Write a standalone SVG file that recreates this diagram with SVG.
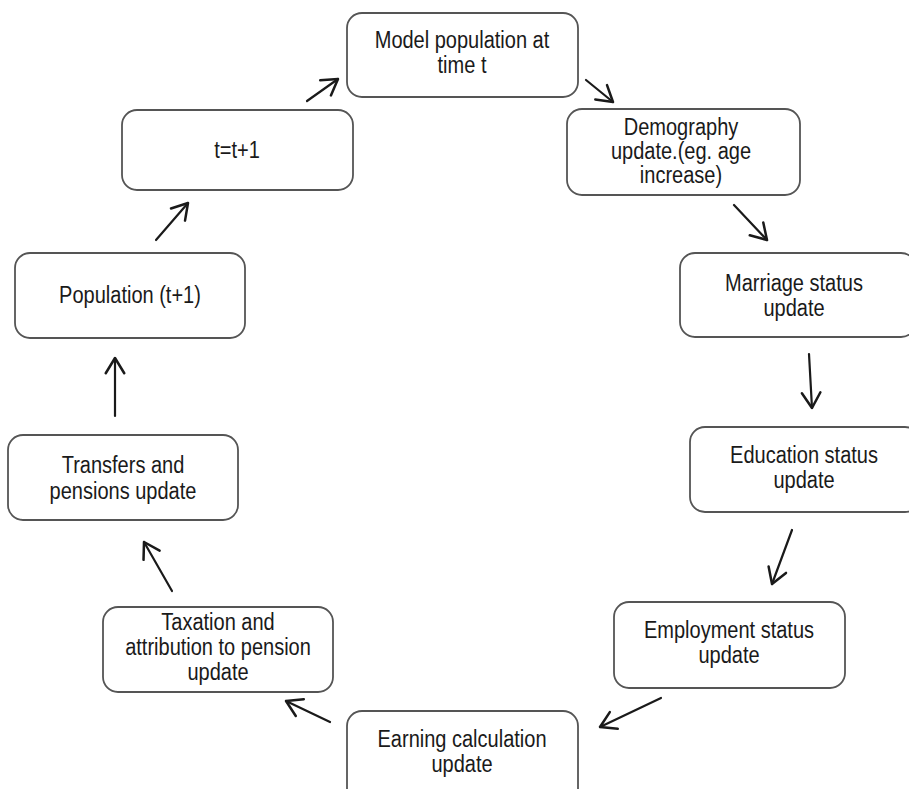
<svg xmlns="http://www.w3.org/2000/svg" width="909" height="789" viewBox="0 0 909 789">
  <defs>
    <marker id="open" markerUnits="userSpaceOnUse" markerWidth="24" markerHeight="24" viewBox="-15 -11 17 22" refX="0" refY="0" orient="auto">
      <path d="M-14,-8.5 L0,0 L-14,8.5" fill="none" stroke="#1a1a1a" stroke-width="2.3" stroke-linecap="round" stroke-linejoin="round"/>
    </marker>
    <style>
      .box { fill: #ffffff; stroke: #555555; stroke-width: 1.8; }
      .lbl { font-family: "Liberation Sans", Arial, sans-serif; font-size: 23px; fill: #1a1a1a; text-anchor: middle; }
      .arr { fill: none; stroke: #1a1a1a; stroke-width: 2.2; stroke-linecap: round; marker-end: url(#open); }
    </style>
  </defs>
  <rect width="909" height="789" fill="#ffffff"/>

  <g id="connectors">
    <line class="arr" x1="307" y1="101" x2="338" y2="79"/>
    <line class="arr" x1="586" y1="80" x2="613" y2="102"/>
    <line class="arr" x1="734" y1="205" x2="767" y2="240"/>
    <line class="arr" x1="809" y1="354" x2="812" y2="408"/>
    <line class="arr" x1="792" y1="530" x2="772" y2="584"/>
    <line class="arr" x1="661" y1="698" x2="600" y2="727"/>
    <line class="arr" x1="330" y1="722" x2="286" y2="701"/>
    <line class="arr" x1="172" y1="591" x2="144" y2="542"/>
    <line class="arr" x1="115" y1="416" x2="115" y2="358"/>
    <line class="arr" x1="156" y1="240" x2="188" y2="203"/>
  </g>

  <!-- labels use a horizontally condensed face: translate to the box centre, then squeeze -->
  <g id="model">
    <rect class="box" x="347" y="13" width="231" height="84" rx="15"/>
    <text class="lbl" transform="translate(462 0) scale(0.87 1)" x="0" y="48">Model population at</text>
    <text class="lbl" transform="translate(462 0) scale(0.87 1)" x="0" y="73">time t</text>
  </g>
  <g id="demography">
    <rect class="box" x="567" y="109" width="233" height="86" rx="15"/>
    <text class="lbl" transform="translate(681 0) scale(0.87 1)" x="0" y="135">Demography</text>
    <text class="lbl" transform="translate(681 0) scale(0.87 1)" x="0" y="159">update.(eg. age</text>
    <text class="lbl" transform="translate(681 0) scale(0.87 1)" x="0" y="183">increase)</text>
  </g>
  <g id="tick">
    <rect class="box" x="122" y="110" width="231" height="80" rx="15"/>
    <text class="lbl" transform="translate(237 0) scale(0.87 1)" x="0" y="158">t=t+1</text>
  </g>
  <g id="marriage">
    <rect class="box" x="680" y="253" width="236" height="84" rx="15"/>
    <text class="lbl" transform="translate(794 0) scale(0.87 1)" x="0" y="291">Marriage status</text>
    <text class="lbl" transform="translate(794 0) scale(0.87 1)" x="0" y="316">update</text>
  </g>
  <g id="population">
    <rect class="box" x="15" y="253" width="230" height="85" rx="15"/>
    <text class="lbl" transform="translate(130 0) scale(0.87 1)" x="0" y="303">Population (t+1)</text>
  </g>
  <g id="education">
    <rect class="box" x="690" y="427" width="230" height="85" rx="15"/>
    <text class="lbl" transform="translate(804 0) scale(0.87 1)" x="0" y="463">Education status</text>
    <text class="lbl" transform="translate(804 0) scale(0.87 1)" x="0" y="488">update</text>
  </g>
  <g id="transfers">
    <rect class="box" x="8" y="435" width="230" height="85" rx="15"/>
    <text class="lbl" transform="translate(123 0) scale(0.87 1)" x="0" y="473">Transfers and</text>
    <text class="lbl" transform="translate(123 0) scale(0.87 1)" x="0" y="499">pensions update</text>
  </g>
  <g id="employment">
    <rect class="box" x="614" y="602" width="231" height="86" rx="15"/>
    <text class="lbl" transform="translate(729 0) scale(0.87 1)" x="0" y="638">Employment status</text>
    <text class="lbl" transform="translate(729 0) scale(0.87 1)" x="0" y="663">update</text>
  </g>
  <g id="taxation">
    <rect class="box" x="103" y="607" width="230" height="85" rx="15"/>
    <text class="lbl" transform="translate(218 0) scale(0.87 1)" x="0" y="630">Taxation and</text>
    <text class="lbl" transform="translate(218 0) scale(0.87 1)" x="0" y="655">attribution to pension</text>
    <text class="lbl" transform="translate(218 0) scale(0.87 1)" x="0" y="680">update</text>
  </g>
  <g id="earning">
    <rect class="box" x="347" y="711" width="231" height="100" rx="15"/>
    <text class="lbl" transform="translate(462 0) scale(0.87 1)" x="0" y="747">Earning calculation</text>
    <text class="lbl" transform="translate(462 0) scale(0.87 1)" x="0" y="772">update</text>
  </g>
</svg>
